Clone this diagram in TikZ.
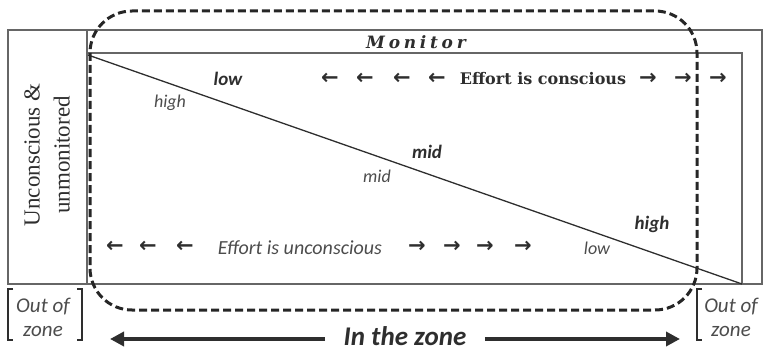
\documentclass[tikz,border=0pt]{standalone}
\usepackage{fontspec}
\setmainfont{Carlito}
\newfontfamily\unmonfont{Liberation Serif}
\newfontfamily\effortfont{DejaVu Serif}
\newfontfamily\arrowfont{DejaVu Sans}
\usetikzlibrary{arrows.meta}
\definecolor{framegray}{gray}{0.4}
\definecolor{labelgray}{gray}{0.3}
\definecolor{labeldark}{gray}{0.18}

\begin{document}
\begin{tikzpicture}[x=1pt, y=-1pt,
    frame/.style={framegray, line width=1.4pt},
    zonedash/.style={black!85, line width=3pt, dash pattern=on 8pt off 4pt, rounded corners=42pt},
    boldlab/.style={labeldark, font=\fontsize{19}{22}\selectfont\bfseries\itshape},
    thinlab/.style={labelgray, font=\fontsize{18}{22}\selectfont\itshape},
    arr/.style={labeldark, font=\arrowfont\fontsize{21}{24}\selectfont\bfseries, inner sep=0pt},
    outzone/.style={labelgray, align=center, inner sep=0pt, font=\fontsize{21}{24}\selectfont\itshape},
    zonearrow/.style={labeldark, line width=4pt, -{Triangle[length=14pt,width=14pt]}}]
  \useasboundingbox (0,0) rectangle (764,353);

  % frames
  \draw[frame] (8,30) rectangle (762,284);
  \draw[frame] (87,30) -- (87,284);
  \draw[frame] (87,53) -- (742,53) -- (742,284);
  \coordinate (diagtop) at (88,55);
  \coordinate (diagbot) at (742,284);
  \draw[labeldark, line width=1.3pt] (diagtop) -- (diagbot);

  % the zone
  \draw[zonedash] (90,11) rectangle (697,310);

  % left column and monitor band
  \node[rotate=90, align=center, labeldark, font=\unmonfont\fontsize{23}{30}\selectfont] (unmon) at (47,155) {Unconscious \&\\unmonitored};
  \node[labeldark, font=\effortfont\fontsize{17}{20}\selectfont\bfseries\itshape\addfontfeature{LetterSpace=22}] (monitor) at (416,42) {Monitor};

  % conscious effort
  \node[labeldark, font=\effortfont\fontsize{16}{19}\selectfont\bfseries] (conscious) at (543,79) {Effort is conscious};
  \foreach \x in {330,365,402,437} \node[arr] (cl\x) at (\x,79) {←};
  \foreach \x in {648,683,718} \node[arr] (cr\x) at (\x,79) {→};

  % unconscious effort
  \node[thinlab, font=\fontsize{20}{22}\selectfont\itshape] (unconscious) at (300,248) {Effort is unconscious};
  \foreach \x in {115,148,185} \node[arr] (ul\x) at (\x,247) {←};
  \foreach \x in {417,452,485,523} \node[arr] (ur\x) at (\x,247) {→};

  % labels along the line
  \node[boldlab] (lowtop) at (228,79) {low};
  \node[thinlab] (highbot) at (170,103) {high};
  \node[boldlab] (midtop) at (427,152) {mid};
  \node[thinlab] (midbot) at (377,176) {mid};
  \node[boldlab] (hightop) at (652,224) {high};
  \node[thinlab] (lowbot) at (597,248) {low};

  % out of zone
  \node[outzone] (outleft) at (43,317) {Out of\\zone};
  \node[outzone] (outright) at (731,317) {Out of\\zone};
  \draw[labeldark, line width=2pt] (13,289) -- (8,289) -- (8,340) -- (13,340);
  \draw[labeldark, line width=2pt] (77,289) -- (82,289) -- (82,340) -- (77,340);
  \draw[labeldark, line width=2pt] (702,289) -- (697,289) -- (697,340) -- (702,340);

  % in the zone
  \node[labeldark, font=\fontsize{27}{30}\selectfont\bfseries\itshape] (inzone) at (405,336) {In the zone};
  \coordinate (zoneleft) at (110,339);
  \coordinate (zoneright) at (680,339);
  \draw[zonearrow] (inzone.west |- zoneleft) ++(-15,0) -- (zoneleft);
  \draw[zonearrow] (inzone.east |- zoneright) ++(15,0) -- (zoneright);
\end{tikzpicture}
\end{document}
